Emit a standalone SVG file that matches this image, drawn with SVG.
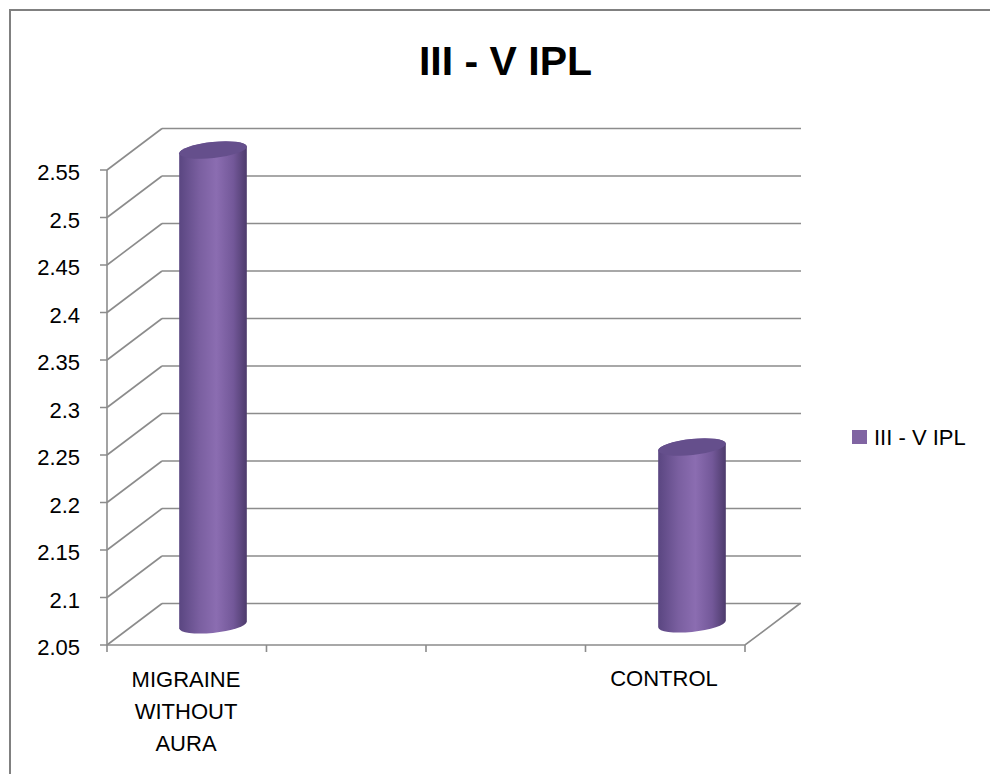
<svg xmlns="http://www.w3.org/2000/svg" width="990" height="774" viewBox="0 0 990 774">
<style>
.grid{stroke:#8c8c8c;stroke-width:1.6;fill:none}
.lbl{font-family:"Liberation Sans",Arial,sans-serif;font-size:22px;fill:#000}
.ylbl{text-anchor:end}
.cat{text-anchor:middle}
.cap{fill:#654f8c}
</style>
<defs>
<linearGradient id="cyl" x1="0" y1="0" x2="1" y2="0">
<stop offset="0" stop-color="#5a4681"/>
<stop offset="0.3" stop-color="#7a5fa0"/>
<stop offset="0.55" stop-color="#8b6db1"/>
<stop offset="0.8" stop-color="#735899"/>
<stop offset="1" stop-color="#4d3b6c"/>
</linearGradient>
</defs>
<rect x="0" y="0" width="990" height="774" fill="#fff"/>
<path d="M10,774 V10 H990" fill="none" stroke="#808080" stroke-width="2"/>
<g id="title"><text x="505.5" y="75" text-anchor="middle" font-family="Liberation Sans,Arial,sans-serif" font-weight="bold" font-size="41">III - V IPL</text></g>
<g id="grid" class="grid">
<path d="M162,128.5H801M162,176H801M162,223.5H801M162,271H801M162,318.5H801M162,366H801M162,413.5H801M162,461H801M162,508.5H801M162,556H801M162,603.5H801"/>
<path d="M107,170L162,128.5M107,217.5L162,176M107,265L162,223.5M107,312.5L162,271M107,360L162,318.5M107,407.5L162,366M107,455L162,413.5M107,502.5L162,461M107,550L162,508.5M107,597.5L162,556M107,645L162,603.5"/>
<path d="M107,170V645H745L800,603.5"/>
<path d="M100,170H107M100,217.5H107M100,265H107M100,312.5H107M100,360H107M100,407.5H107M100,455H107M100,502.5H107M100,550H107M100,597.5H107M100,645H107"/>
<path d="M107,645V652M266.5,645V652M426,645V652M585.5,645V652M745,645V652"/>
</g>
<g id="yaxis" class="lbl ylbl">
<text x="80" y="180">2.55</text>
<text x="80" y="227.5">2.5</text>
<text x="80" y="275">2.45</text>
<text x="80" y="322.5">2.4</text>
<text x="80" y="370">2.35</text>
<text x="80" y="417.5">2.3</text>
<text x="80" y="465">2.25</text>
<text x="80" y="512.5">2.2</text>
<text x="80" y="560">2.15</text>
<text x="80" y="607.5">2.1</text>
<text x="80" y="655">2.05</text>
</g>
<g id="bar-migraine">
<path d="M179.18,153.36 L179.18,628.36 A34 8 -6 0 0 246.82,621.64 L246.82,146.64 A34 8 -6 0 0 179.18,153.36 Z" fill="url(#cyl)"/>
<ellipse class="cap" cx="213" cy="150" rx="34" ry="8" transform="rotate(-6 213 150)"/>
</g>
<g id="bar-control">
<path d="M658.18,450.36 L658.18,627.36 A34 8 -6 0 0 725.82,620.64 L725.82,443.64 A34 8 -6 0 0 658.18,450.36 Z" fill="url(#cyl)"/>
<ellipse class="cap" cx="692" cy="447" rx="34" ry="8" transform="rotate(-6 692 447)"/>
</g>
<g id="cat-migraine" class="lbl cat">
<text x="186" y="687">MIGRAINE</text>
<text x="186" y="719">WITHOUT</text>
<text x="186" y="751">AURA</text>
</g>
<g id="cat-control" class="lbl cat"><text x="664" y="686">CONTROL</text></g>
<g id="legend">
<rect x="852" y="430" width="15" height="14" fill="#8064a2"/>
<text class="lbl" x="874" y="445">III - V IPL</text>
</g>
<g id="connectors"></g>
</svg>
